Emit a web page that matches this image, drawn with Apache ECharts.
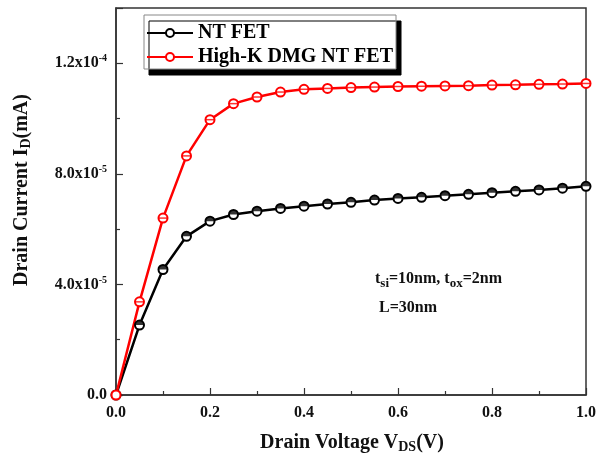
<!DOCTYPE html>
<html><head><meta charset="utf-8">
<script src="https://cdn.jsdelivr.net/npm/echarts@6/dist/echarts.min.js"></script>
<style>html,body{margin:0;padding:0;background:#fff}#c{width:599px;height:455px}</style>
</head><body><div id="c"></div>
<script>
const vds = [0,0.05,0.1,0.15,0.2,0.25,0.3,0.35,0.4,0.45,0.5,0.55,0.6,0.65,0.7,0.75,0.8,0.85,0.9,0.95,1.0];
const ntFet = [0,2.53e-5,4.54e-5,5.74e-5,6.29e-5,6.53e-5,6.65e-5,6.75e-5,6.83e-5,6.91e-5,6.97e-5,7.05e-5,7.11e-5,7.15e-5,7.21e-5,7.26e-5,7.32e-5,7.37e-5,7.42e-5,7.48e-5,7.55e-5];
const highK = [0,3.37e-5,6.4e-5,8.65e-5,9.96e-5,1.054e-4,1.078e-4,1.096e-4,1.106e-4,1.109e-4,1.112e-4,1.114e-4,1.116e-4,1.117e-4,1.118e-4,1.119e-4,1.121e-4,1.122e-4,1.124e-4,1.125e-4,1.127e-4];
const yTickLabels = {0:'0.0', 4:'{a|4.0x10}{s|-5}', 8:'{a|8.0x10}{s|-5}', 12:'{a|1.2x10}{s|-4}'};
const xTickLabels = {0:'0.0',2:'0.2',4:'0.4',6:'0.6',8:'0.8',10:'1.0'};
const seriesNames = ['NT FET','High-K DMG NT FET'];

const F = 'Liberation Serif, Times New Roman, serif';
const pair = arr => vds.map((x,i)=>[x,arr[i]]);
const chart = echarts.init(document.getElementById('c'));
const halfDisc = 'path://M0,10 A10,10 0 0 1 20,10 Z';
chart.setOption({
  animation:false,
  grid:{left:116,right:8,top:8,bottom:60,show:true,borderColor:'#333',borderWidth:1.5,backgroundColor:'transparent'},
  legend:{
    data:seriesNames, left:144, top:15, orient:'vertical',
    backgroundColor:'#fff', borderColor:'#888', borderWidth:1,
    shadowColor:'#000', shadowBlur:0, shadowOffsetX:5, shadowOffsetY:6,
    padding:[8,3,2,2], itemGap:4, itemWidth:46, itemHeight:10,
    textStyle:{fontFamily:F,fontWeight:'bold',fontSize:20,color:'#000',lineHeight:20}
  },
  xAxis:{
    type:'value', min:0, max:1, interval:0.2,
    axisLine:{show:true,lineStyle:{color:'#333',width:1.5}},
    axisTick:{inside:true,length:7,lineStyle:{color:'#333',width:1.2}},
    minorTick:{show:true,splitNumber:2,length:4,lineStyle:{color:'#333',width:1.2}},
    splitLine:{show:false},
    axisLabel:{margin:10,fontFamily:F,fontWeight:'bold',fontSize:16,color:'#111',
      formatter:v=>xTickLabels[Math.round(v*10)] ?? ''}
  },
  yAxis:{
    type:'value', min:0, max:1.4e-4, interval:4e-5,
    axisLine:{show:true,lineStyle:{color:'#333',width:1.5}},
    axisTick:{inside:true,length:7,lineStyle:{color:'#333',width:1.2}},
    minorTick:{show:true,splitNumber:2,length:4,lineStyle:{color:'#333',width:1.2}},
    splitLine:{show:false},
    axisLabel:{margin:9,showMaxLabel:false,fontFamily:F,fontWeight:'bold',fontSize:16,color:'#111',
      formatter:v=>yTickLabels[Math.round(v*1e5)] ?? '',
      rich:{a:{fontFamily:F,fontWeight:'bold',fontSize:16,color:'#111'},
            s:{fontFamily:F,fontWeight:'bold',fontSize:10,color:'#111',verticalAlign:'top',padding:[0,0,9,0]}}}
  },
  graphic:[
    {type:'text',x:352,y:443,style:{align:'center',verticalAlign:'middle',rich:{
      a:{fontFamily:F,fontWeight:'bold',fontSize:20,fill:'#111'},
      s:{fontFamily:F,fontWeight:'bold',fontSize:14,fill:'#111',padding:[9,0,0,0]}},
      text:'{a|Drain Voltage V}{s|DS}{a|(V)}'}},
    {type:'text',x:22,y:190,rotation:Math.PI/2,style:{align:'center',verticalAlign:'middle',rich:{
      a:{fontFamily:F,fontWeight:'bold',fontSize:20,fill:'#111'},
      s:{fontFamily:F,fontWeight:'bold',fontSize:14,fill:'#111',padding:[9,0,0,0]}},
      text:'{a|Drain Current I}{s|D}{a|(mA)}'}},
    {type:'text',left:375,top:271,style:{rich:{
      a:{fontFamily:F,fontWeight:'bold',fontSize:16,fill:'#111'},
      s:{fontFamily:F,fontWeight:'bold',fontSize:13,fill:'#111',padding:[9,0,0,0]}},
      text:'{a|t}{s|si}{a|=10nm, t}{s|ox}{a|=2nm}'}},
    {type:'text',left:379,top:300,style:{fontFamily:F,fontWeight:'bold',fontSize:16,fill:'#111',text:'L=30nm'}}
  ],
  series:[
    {name:seriesNames[0],type:'line',data:pair(ntFet),symbol:'emptyCircle',symbolSize:9,
     lineStyle:{color:'#000',width:2.5},itemStyle:{color:'#000',borderColor:'#000',borderWidth:1.2},z:2},
    {name:seriesNames[1],type:'line',data:pair(highK),symbol:'emptyCircle',symbolSize:9,
     lineStyle:{color:'#f00',width:2.5},itemStyle:{color:'#f00',borderColor:'#f00',borderWidth:1.2},z:2},
    {name:'ntHalf',type:'scatter',data:pair(ntFet).slice(1),symbol:halfDisc,symbolSize:[8,4],symbolOffset:[0,-2],
     itemStyle:{color:'#000'},z:5,silent:true},
    {name:'hkHalf',type:'scatter',data:pair(highK).slice(1),symbol:'rect',symbolSize:[8,1.5],
     itemStyle:{color:'#f00'},z:5,silent:true}
  ]
});
</script></body></html>
